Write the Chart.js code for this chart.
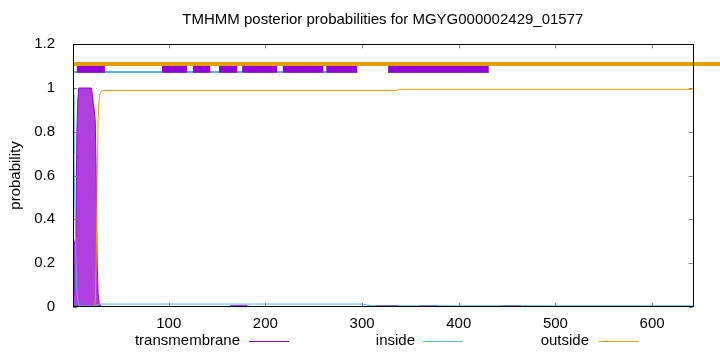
<!DOCTYPE html>
<html>
<head>
<meta charset="utf-8">
<script src="https://cdn.jsdelivr.net/npm/chart.js@4/dist/chart.umd.min.js"></script>
<style>
  html, body { margin: 0; padding: 0; background: #ffffff; }
  #wrap { width: 720px; height: 352px; }
</style>
</head>
<body>
<div id="wrap"><canvas id="c" width="720" height="352"></canvas></div>
<script>
// ---- data ----
const chartTitle = 'TMHMM posterior probabilities for MGYG000002429_01577';
const yTitle = 'probability';
const seriesNames = ['transmembrane', 'inside', 'outside'];
const xTicks = [100, 200, 300, 400, 500, 600];
const yTicks = [0, 0.2, 0.4, 0.6, 0.8, 1, 1.2];
const seqLength = 642;

// transmembrane posterior
const tmX = [1, 2, 3, 4, 5, 6, 7, 20, 21, 22, 23, 24, 25, 26, 27, 28, 30,
             163, 164, 181, 182, 313, 314, 337, 338, 358, 359, 378, 379, 444, 445, 464, 465, 642];
const tmY = [0.05, 0.28, 0.30, 0.32, 0.8, 0.95, 1, 1, 0.97, 0.93, 0.9, 0.85, 0.6, 0.2, 0.06, 0.02, 0,
             0, 0.004, 0.004, 0, 0, 0.005, 0.005, 0, 0, 0.004, 0.004, 0, 0, 0.004, 0.004, 0, 0];
// inside posterior
const inX = [1, 2, 3, 4, 5, 6, 8, 24, 28, 300, 310, 642];
const inY = [0.97, 0.7, 0.45, 0.22, 0.08, 0.02, 0.003, 0.003, 0.012, 0.012, 0.004, 0.004];
// outside posterior
const outX = [1, 23, 24, 25, 26, 27, 28, 29, 31, 335, 338, 642];
const outY = [0, 0, 0.03, 0.2, 0.6, 0.85, 0.95, 0.975, 0.989, 0.989, 0.994, 0.994];

// topology strip at the top
const tmBandStart = [5, 93, 125, 152, 176, 218, 263, 327];
const tmBandEnd   = [34, 119, 143, 171, 212, 260, 295, 431];
const inBandStart = [1, 327];
const inBandEnd   = [295, 431];
const outBandStart = [1];
const outBandEnd   = [672];
const bandLevel = { transmembrane: 1.09, inside: 1.073, outside: 1.11 };

// ---- helpers ----
const purple = '#9400d3', blue = '#56b4e9', orange = '#e69f00';
const FONT = '"Liberation Sans", Arial, sans-serif';
function pts(xs, ys) { return xs.map((x, i) => ({ x: x, y: ys[i] })); }
function band(starts, ends, level) {
  const d = [];
  starts.forEach((s, i) => {
    d.push({ x: s, y: level });
    d.push({ x: ends[i], y: level });
    d.push({ x: ends[i] + 0.01, y: null });
  });
  return d;
}

const framePlugin = {
  id: 'frame',
  afterDraw(chart) {
    const ctx = chart.ctx, a = chart.chartArea;
    const xs = chart.scales.x, ys = chart.scales.y;
    ctx.save();
    // ticks (inward, gray, both sides)
    ctx.strokeStyle = '#808080';
    ctx.lineWidth = 1;
    xTicks.forEach(v => {
      const px = Math.round(xs.getPixelForValue(v)) + 0.5;
      ctx.beginPath();
      ctx.moveTo(px, a.bottom); ctx.lineTo(px, a.bottom - 4);
      ctx.moveTo(px, a.top); ctx.lineTo(px, a.top + 4);
      ctx.stroke();
    });
    yTicks.forEach(v => {
      const py = Math.round(ys.getPixelForValue(v)) + 0.5;
      ctx.beginPath();
      ctx.moveTo(a.left, py); ctx.lineTo(a.left + 4, py);
      ctx.moveTo(a.right, py); ctx.lineTo(a.right - 4, py);
      ctx.stroke();
    });
    // border
    ctx.strokeStyle = '#000000';
    ctx.strokeRect(Math.round(a.left) + 0.5, Math.round(a.top) + 0.5,
                   Math.round(a.right - a.left), Math.round(a.bottom - a.top));
    // title
    ctx.fillStyle = '#000000';
    ctx.font = '15px ' + FONT;
    ctx.textAlign = 'center';
    ctx.textBaseline = 'middle';
    ctx.fillText(chartTitle, (a.left + a.right) / 2, 20);
    // y title
    ctx.save();
    ctx.translate(16, (a.top + a.bottom) / 2);
    ctx.rotate(-Math.PI / 2);
    ctx.fillText(yTitle, 0, 0);
    ctx.restore();
    // legend
    const legendItems = [
      { text: seriesNames[0], textEnd: 240, x0: 249, x1: 289, color: purple },
      { text: seriesNames[1], textEnd: 415, x0: 423, x1: 463, color: blue },
      { text: seriesNames[2], textEnd: 589, x0: 599, x1: 639, color: orange }
    ];
    ctx.textAlign = 'right';
    legendItems.forEach(it => {
      ctx.fillStyle = '#000000';
      ctx.fillText(it.text, it.textEnd, 341);
      ctx.strokeStyle = it.color;
      ctx.beginPath();
      ctx.moveTo(it.x0, 341.5); ctx.lineTo(it.x1, 341.5);
      ctx.stroke();
    });
    ctx.restore();
  }
};

new Chart(document.getElementById('c'), {
  type: 'line',
  data: {
    datasets: [
      { label: 'outside band', data: band(outBandStart, outBandEnd, bandLevel.outside),
        borderColor: orange, borderWidth: 4, pointRadius: 0, clip: false, order: 0, spanGaps: false },
      { label: 'tm band', data: band(tmBandStart, tmBandEnd, bandLevel.transmembrane),
        borderColor: purple, borderWidth: 9, borderCapStyle: 'butt', pointRadius: 0, order: 1, spanGaps: false },
      { label: 'inside band', data: band(inBandStart, inBandEnd, bandLevel.inside),
        borderColor: blue, borderWidth: 2, pointRadius: 0, order: 2, spanGaps: false },
      { label: seriesNames[2], data: pts(outX, outY),
        borderColor: orange, borderWidth: 1, pointRadius: 0, order: 3 },
      { label: seriesNames[1], data: pts(inX, inY),
        borderColor: blue, borderWidth: 1, pointRadius: 0, order: 4 },
      { label: seriesNames[0], data: pts(tmX, tmY),
        borderColor: purple, borderWidth: 1, backgroundColor: 'rgba(148,0,211,0.75)',
        fill: 'origin', pointRadius: 0, order: 5 }
    ]
  },
  options: {
    responsive: false,
    animation: false,
    events: [],
    layout: { padding: { left: 0, right: 27.3, top: 44.3, bottom: 0 } },
    plugins: { legend: { display: false }, title: { display: false }, tooltip: { enabled: false } },
    elements: { line: { tension: 0 } },
    scales: {
      x: {
        type: 'linear', min: 1, max: seqLength,
        afterBuildTicks: s => { s.ticks = xTicks.map(v => ({ value: v })); },
        afterFit: s => { s.height = 352 - 306.7; },
        grid: { display: false }, border: { display: false },
        ticks: { color: '#000', font: { family: FONT, size: 15 }, padding: 0, maxRotation: 0,
                 callback: v => String(v) }
      },
      y: {
        type: 'linear', min: 0, max: 1.2,
        afterBuildTicks: s => { s.ticks = yTicks.map(v => ({ value: v })); },
        afterFit: s => { s.width = 73; },
        grid: { display: false }, border: { display: false },
        ticks: { color: '#000', font: { family: FONT, size: 15 }, padding: 10,
                 callback: v => String(Number(v.toFixed(1))) }
      }
    }
  },
  plugins: [framePlugin]
});
</script>
</body>
</html>
